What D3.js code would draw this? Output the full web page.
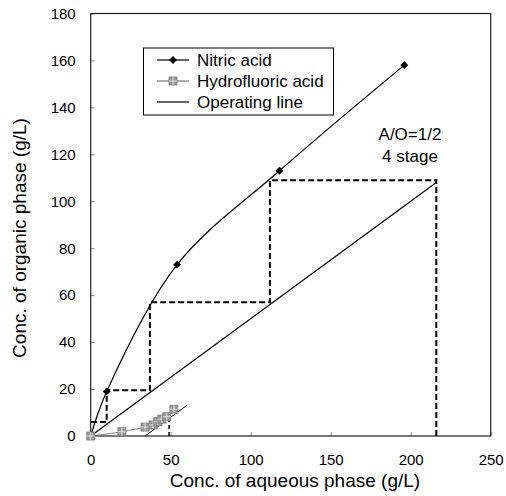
<!DOCTYPE html>
<html><head><meta charset="utf-8">
<script src="https://cdn.jsdelivr.net/npm/d3@7"></script>
<style>body{margin:0;background:#fff}</style>
</head><body>
<script>
const xTicks = [0, 50, 100, 150, 200, 250];
const yTicks = [0, 20, 40, 60, 80, 100, 120, 140, 160, 180];
const nitricX = [0, 10, 54, 118, 196];
const nitricY = [0, 19, 73, 113, 158];
const hfX = [0, 19.5, 34, 39, 42, 44.5, 47.5, 52];
const hfY = [0, 1.8, 3.8, 4.7, 6.1, 7.2, 8.2, 11.4];
const opX = [0, 216];
const opY = [0, 108];
const hfOpX = [34, 60];
const hfOpY = [0, 13];
const stairX = [216, 216, 112, 112, 37, 37, 10, 10, 0];
const stairY = [0, 109, 109, 57, 57, 19.5, 19.5, 6, 6];
const hfStairX = [49, 49];
const hfStairY = [0, 7.3];
const legendLabels = ["Nitric acid", "Hydrofluoric acid", "Operating line"];
const noteLines = ["A/O=1/2", "4 stage"];

const W = 506, H = 496;
const svg = d3.select("body").append("svg").attr("width", W).attr("height", H)
  .style("font-family", "Arial, 'Liberation Sans', sans-serif");
const x = d3.scaleLinear().domain([0, 250]).range([90.7, 490.7]);
const y = d3.scaleLinear().domain([0, 180]).range([436, 13.5]);

const xa = svg.append("g").attr("transform", `translate(0,${y(0)})`)
  .call(d3.axisBottom(x).tickValues(xTicks).tickSizeInner(-4).tickSizeOuter(0).tickPadding(18));
const ya = svg.append("g").attr("transform", `translate(${x(0)},0)`)
  .call(d3.axisLeft(y).tickValues(yTicks).tickSizeInner(-4).tickSizeOuter(0).tickPadding(15));
[xa, ya].forEach(g => {
  g.select(".domain").remove();
  g.selectAll(".tick line").attr("stroke", "#888");
  g.selectAll("text").attr("font-size", 15).attr("fill", "#000").attr("font-family", "Arial, 'Liberation Sans', sans-serif");
});

svg.append("rect").attr("x", x(0)).attr("y", y(180)).attr("width", x(250) - x(0)).attr("height", y(0) - y(180))
  .attr("fill", "none").attr("stroke", "#222").attr("stroke-width", 1.2);

const pts = (xs, ys) => xs.map((v, i) => [v, ys[i]]);
const lin = d3.line().x(d => x(d[0])).y(d => y(d[1]));
const smooth = d3.line().x(d => x(d[0])).y(d => y(d[1])).curve(d3.curveCatmullRom.alpha(0.5));

svg.append("path").attr("d", lin(pts(stairX, stairY))).attr("fill", "none")
  .attr("stroke", "#000").attr("stroke-width", 2).attr("stroke-dasharray", "6,3");
svg.append("path").attr("d", lin(pts(hfStairX, hfStairY))).attr("fill", "none")
  .attr("stroke", "#000").attr("stroke-width", 1.5).attr("stroke-dasharray", "4,3");

svg.append("path").attr("d", lin(pts(opX, opY))).attr("fill", "none").attr("stroke", "#000").attr("stroke-width", 1.2);
svg.append("path").attr("d", lin(pts(hfOpX, hfOpY))).attr("fill", "none").attr("stroke", "#000").attr("stroke-width", 1);

const nit = pts(nitricX, nitricY);
svg.append("path").attr("d", smooth(nit)).attr("fill", "none").attr("stroke", "#000").attr("stroke-width", 1.2);
const diamond = d3.symbol().type(d3.symbolDiamond2).size(40);
svg.selectAll(".nm").data(nit.slice(1)).join("path").attr("class", "nm")
  .attr("transform", d => `translate(${x(d[0])},${y(d[1])})`).attr("d", diamond).attr("fill", "#000");

const hf = pts(hfX, hfY);
svg.append("path").attr("d", smooth(hf)).attr("fill", "none").attr("stroke", "#777").attr("stroke-width", 1);
function hfMarker(g, cx, cy) {
  g.append("rect").attr("x", cx - 4).attr("y", cy - 4).attr("width", 8).attr("height", 8)
    .attr("fill", "#9a9a9a").attr("stroke", "#777").attr("stroke-width", 0.8);
  g.append("path").attr("d", `M${cx - 4},${cy}H${cx + 4}M${cx},${cy - 4}V${cy + 4}`).attr("stroke", "#ddd").attr("stroke-width", 1);
}
hf.forEach(d => hfMarker(svg, x(d[0]), y(d[1])));

const lg = svg.append("g");
lg.append("rect").attr("x", 143.5).attr("y", 48).attr("width", 190).attr("height", 67)
  .attr("fill", "#fff").attr("stroke", "#000").attr("stroke-width", 1);
legendLabels.forEach((t, i) => {
  const ly = 60 + i * 21;
  lg.append("line").attr("x1", 157).attr("x2", 189).attr("y1", ly).attr("y2", ly)
    .attr("stroke", i === 1 ? "#777" : "#000").attr("stroke-width", 1.2);
  if (i === 0) lg.append("path").attr("transform", `translate(173,${ly})`).attr("d", diamond).attr("fill", "#000");
  if (i === 1) hfMarker(lg, 173, ly);
  lg.append("text").attr("x", 197).attr("y", ly).attr("dy", "0.35em").attr("font-size", 17).text(t);
});

noteLines.forEach((t, i) => {
  svg.append("text").attr("x", 410).attr("y", 140 + i * 21.5).attr("text-anchor", "middle")
    .attr("font-size", 17).text(t);
});

svg.append("text").attr("x", 295).attr("y", 487).attr("text-anchor", "middle").attr("font-size", 19)
  .text("Conc. of aqueous phase (g/L)");
svg.append("text").attr("transform", "translate(26,238) rotate(-90)").attr("text-anchor", "middle").attr("font-size", 19)
  .text("Conc. of organic phase (g/L)");
</script>
</body></html>
